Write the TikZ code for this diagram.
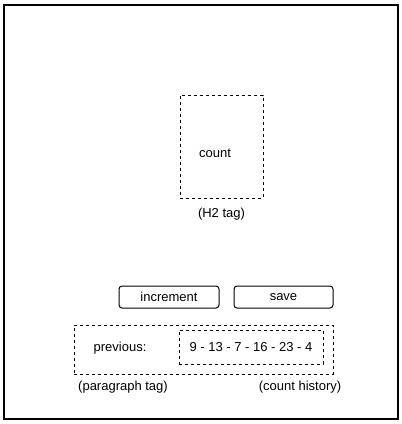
\documentclass[tikz,border=0pt]{standalone}
\usepackage{fontspec}
\setmainfont{Liberation Sans}
\usetikzlibrary{positioning}

\begin{document}
\begin{tikzpicture}[x=1pt, y=-1pt, font=\fontsize{13}{15}\selectfont, line width=1pt]
	\tikzstyle{tagbox}=[draw=black, dash pattern=on 3pt off 3pt, inner sep=0pt]
	\tikzstyle{button}=[draw=black, rounded corners=3pt, minimum width=100pt, minimum height=22pt, inner sep=0pt]
	\tikzstyle{caption}=[inner sep=0pt]
	\useasboundingbox (0,0) rectangle (402,424);
	\draw[line width=1.4pt] (4,5) rectangle (398,419);
	% heading
	\node[tagbox, minimum width=83pt, minimum height=103pt] (count) at (221.5,146.5) {};
	\node[caption] (countlbl) at (215,153) {count};
	\node[caption, below=9pt of count] (h2) {(H2 tag)};
	% buttons
	\node[button] (increment) at (169,297) {increment};
	\node[button, minimum width=99pt] (save) at (283.5,297) {save};
	% paragraph
	\node[tagbox, minimum width=259pt, minimum height=49pt] (para) at (203.5,349.5) {};
	\node[caption] (previous) at (120,348.5) {previous:};
	\node[tagbox, minimum width=144pt, minimum height=34pt] (history) at (251,347) {9 - 13 - 7 - 16 - 23 - 4};
	\node[caption] (paralbl) at (123,387.5) {(paragraph tag)};
	\node[caption] (histlbl) at (300,387.5) {(count history)};
\end{tikzpicture}
\end{document}
